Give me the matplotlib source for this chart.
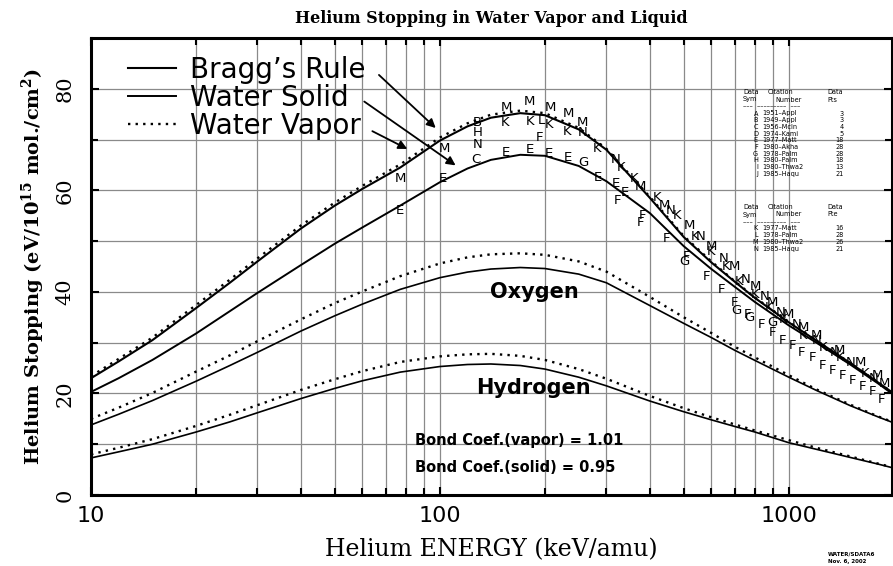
import numpy as np
import matplotlib
matplotlib.use("Agg")
import matplotlib.pyplot as plt
from matplotlib.ticker import FixedLocator, NullFormatter

plt.rcParams['mathtext.default'] = 'regular'

# energy grid (keV/amu) shared by all curves
energy = [10, 12, 15, 20, 25, 30, 40, 50, 60, 77, 100, 120, 140, 170, 200,
          250, 300, 400, 500, 600, 700, 800, 1000, 1200, 1500, 1800, 2000]

bragg = [23.0, 26.3, 30.5, 36.8, 41.8, 46.0, 52.5, 57.0, 60.3, 64.5, 69.8, 72.6, 74.3, 75.2, 74.8,
         72.0, 68.0, 58.5, 50.8, 45.8, 42.0, 38.8, 34.0, 30.4, 26.0, 22.2, 20.0]
water_vapor = [23.4, 26.8, 31.0, 37.4, 42.4, 46.6, 53.1, 57.6, 60.9, 65.1, 70.4, 73.2, 74.9, 75.7, 75.2,
               72.3, 68.2, 58.7, 51.0, 46.0, 42.1, 38.9, 34.1, 30.4, 26.0, 22.2, 20.0]
water_solid = [20.3, 23.0, 26.6, 31.8, 36.2, 39.8, 45.3, 49.5, 52.7, 57.0, 61.6, 64.3, 66.0, 67.0, 66.8,
               64.8, 61.8, 55.5, 49.0, 44.5, 41.0, 38.0, 33.4, 30.0, 25.7, 22.0, 19.7]
oxy_vapor = [15.0, 17.2, 20.1, 24.3, 27.5, 30.3, 34.6, 37.8, 40.1, 43.1, 45.6, 46.8, 47.4, 47.6, 47.3,
             46.0, 44.0, 39.0, 35.0, 31.9, 29.2, 27.1, 23.6, 20.8, 17.8, 15.5, 14.3]
oxy_solid = [13.8, 15.9, 18.6, 22.4, 25.5, 28.1, 32.3, 35.3, 37.6, 40.5, 42.8, 43.9, 44.5, 44.8, 44.6,
             43.5, 41.8, 37.3, 33.8, 31.0, 28.5, 26.5, 23.2, 20.6, 17.6, 15.4, 14.2]
hyd_vapor = [8.0, 9.3, 11.0, 13.6, 15.8, 17.7, 20.7, 22.8, 24.4, 26.2, 27.3, 27.7, 27.8, 27.4, 26.6,
             24.8, 22.9, 19.5, 17.1, 15.3, 13.9, 12.7, 10.8, 9.3, 7.6, 6.2, 5.4]
hyd_solid = [7.3, 8.5, 10.0, 12.4, 14.4, 16.2, 19.0, 21.0, 22.5, 24.2, 25.3, 25.7, 25.8, 25.5, 24.8,
             23.2, 21.5, 18.5, 16.4, 14.8, 13.5, 12.4, 10.3, 9.0, 7.4, 6.1, 5.3]

# experimental data, plotted as letters
data_sym = list("MEMEBHNCMKMKLMKFEEEEMKMNGEKNKEFEKMF") + list("FFFFFFFFFFFFFFFFFFFF") \
    + list("KKKKKKKKKKKKK") + list("MMMMMMMMMMMMM") + list("NNNNNNNNNNN") + list("GGGG")
data_e = [77, 77, 103, 102, 128, 128, 128, 127, 155, 154, 181, 181, 195, 207, 205, 193,
          155, 181, 205, 232, 233, 232, 257, 257, 257, 283, 283, 320, 330, 320, 322, 340, 360, 375, 375,
          382, 447, 510, 582, 643, 700, 763, 837, 900, 962, 1026, 1088, 1172, 1251, 1337, 1428, 1525, 1629, 1740, 1845,
          420, 480, 540, 600, 660, 720, 800, 880, 960, 1100, 1250, 1400, 1650,
          440, 520, 600, 700, 800, 900, 1000, 1100, 1200, 1400, 1600, 1800, 1880,
          460, 560, 650, 750, 850, 950, 1050, 1200, 1350, 1500, 1750,
          503, 709, 769, 900]
data_v = [62.4, 56.1, 68.3, 62.4, 73.3, 71.3, 69.0, 66.0, 76.4, 73.3, 77.4, 73.5, 73.7, 76.4, 72.9, 70.5,
          67.5, 68.0, 67.3, 66.4, 75.2, 71.5, 73.3, 71.3, 65.4, 62.6, 68.3, 66.0, 64.4, 61.4, 58.0, 59.5, 62.4, 60.7, 53.6,
          55.0, 50.5, 47.0, 43.0, 40.5, 38.0, 35.5, 33.5, 32.0, 30.5, 29.5, 28.0, 27.0, 25.5, 24.5, 23.5, 22.5, 21.3, 20.3, 18.8,
          58.5, 55.0, 51.0, 48.0, 45.0, 42.0, 39.5, 37.0, 34.5, 31.5, 29.0, 27.0, 24.0,
          57.0, 53.0, 49.0, 45.0, 41.0, 38.0, 35.5, 33.0, 31.5, 28.5, 26.0, 23.5, 22.0,
          56.0, 51.0, 46.5, 42.5, 39.0, 36.0, 33.5, 30.5, 28.0, 26.0, 23.0,
          45.9, 36.4, 35.0, 33.9]

table1_sym = list("ABCDEFGHIJ")
table1_cit = ["1951\u2013Appl", "1949\u2013Appl", "1956\u2013Mcln", "1974\u2013Kami", "1977\u2013Matt",
              "1980\u2013Akha", "1978\u2013Palm", "1980\u2013Palm", "1980\u2013Thwa2", "1985\u2013Haqu"]
table1_pts = [3, 3, 4, 5, 18, 28, 28, 18, 13, 21]
table2_sym = list("KLMN")
table2_cit = ["1977\u2013Matt", "1978\u2013Palm", "1980\u2013Thwa2", "1985\u2013Haqu"]
table2_pts = [16, 28, 26, 21]

W, H = 893, 566
fig = plt.figure(figsize=(W / 100, H / 100), dpi=100)
ax = fig.add_axes([91 / W, 1 - 495 / H, (891.5 - 91) / W, (495 - 38) / H])


def px(x, y):
    return x / W, 1 - y / H


dot = (0, (1, 2.2))
l_bragg, = ax.plot(energy, bragg, color='k', lw=1.5)
l_vap, = ax.plot(energy, water_vapor, color='k', lw=1.7, ls=dot)
l_sol, = ax.plot(energy, water_solid, color='k', lw=1.4)
ax.plot(energy, oxy_vapor, color='k', lw=1.7, ls=dot)
ax.plot(energy, oxy_solid, color='k', lw=1.2)
ax.plot(energy, hyd_vapor, color='k', lw=1.7, ls=dot)
ax.plot(energy, hyd_solid, color='k', lw=1.2)

for e, v, s in zip(data_e, data_v, data_sym):
    ax.text(e, v, s, fontsize=9.5, ha='center', va='center', color='k')

ax.set_xscale('log')
ax.set_xlim(10, 1970)
ax.set_ylim(0, 90)
ax.xaxis.set_major_locator(FixedLocator([10, 100, 1000]))
ax.xaxis.set_minor_locator(FixedLocator([20, 30, 40, 50, 60, 70, 80, 90,
                                         200, 300, 400, 500, 600, 700, 800, 900]))
ax.xaxis.set_minor_formatter(NullFormatter())
ax.set_xticklabels(['10', '100', '1000'])
ax.yaxis.set_major_locator(FixedLocator([0, 20, 40, 60, 80]))
ax.yaxis.set_minor_locator(FixedLocator([10, 30, 50, 70]))
ax.grid(True, which='both', color='#8a8a8a', lw=0.9)
ax.tick_params(which='both', direction='in', top=True, right=True, width=1.5, color='k')
ax.tick_params(which='major', length=6)
ax.tick_params(which='minor', length=5)
ax.tick_params(axis='x', labelsize=16, pad=8)
ax.tick_params(axis='y', labelsize=15, pad=12, labelrotation=90)
for lab in ax.get_yticklabels():
    lab.set_family('DejaVu Serif')
    lab.set_va('center')
for sp in ax.spines.values():
    sp.set_linewidth(2.2)

ax.set_xlabel('Helium ENERGY (keV/amu)', family='DejaVu Serif', fontsize=17, labelpad=9)
ax.set_ylabel('Helium Stopping (eV/10$^{15}$ mol./cm$^{2}$)', family='DejaVu Serif',
              fontsize=14, fontweight='bold', labelpad=6)
ax.set_title('Helium Stopping in Water Vapor and Liquid', family='DejaVu Serif',
             fontsize=11.5, fontweight='bold', pad=11)

leg = ax.legend([l_bragg, l_sol, l_vap], ["Bragg\u2019s Rule", "Water Solid", "Water Vapor"],
                loc='upper left', bbox_to_anchor=(0.032, 0.985), frameon=False, fontsize=20,
                handlelength=1.75, handletextpad=0.5, labelspacing=0.0, borderaxespad=0)

arrow = dict(arrowstyle='-|>', color='k', lw=1.3, mutation_scale=13)
ax.annotate('', xy=(98.6, 71.9), xytext=(66, 83.1), arrowprops=arrow)
ax.annotate('', xy=(112.6, 64.6), xytext=(59.8, 77.8), arrowprops=arrow)
ax.annotate('', xy=(82, 67.9), xytext=(63, 71.9), arrowprops=arrow)

ax.text(186, 40.0, 'Oxygen', fontsize=15, fontweight='bold', ha='center', va='center')
ax.text(186, 21.1, 'Hydrogen', fontsize=15, fontweight='bold', ha='center', va='center')
fig.text(*px(415, 440), 'Bond Coef.(vapor) = 1.01', fontsize=10.5, fontweight='bold', va='center')
fig.text(*px(415, 467), 'Bond Coef.(solid) = 0.95', fontsize=10.5, fontweight='bold', va='center')

# data citation tables
fs = 4.7


def table(y0, pts_word, syms, cits, pts):
    fig.text(*px(743, y0), 'Data', fontsize=fs, va='center')
    fig.text(*px(768, y0), 'Citation', fontsize=fs, va='center')
    fig.text(*px(827, y0), 'Data', fontsize=fs, va='center')
    fig.text(*px(743, y0 + 7.5), 'Sym', fontsize=fs, va='center')
    fig.text(*px(775, y0 + 7.5), 'Number', fontsize=fs, va='center')
    fig.text(*px(827, y0 + 7.5), pts_word, fontsize=fs, va='center')
    fig.text(*px(743, y0 + 14.5), '\u2013\u2013\u2013  \u2013\u2013\u2013\u2013\u2013\u2013\u2013\u2013\u2013  \u2013\u2013\u2013',
             fontsize=fs, va='center')
    for i, (s, c, p) in enumerate(zip(syms, cits, pts)):
        y = y0 + 21.5 + i * 6.7
        fig.text(*px(758, y), s, fontsize=fs, va='center', ha='right')
        fig.text(*px(762, y), c, fontsize=fs, va='center')
        fig.text(*px(844, y), str(p), fontsize=fs, va='center', ha='right')


table(92, 'Pts', table1_sym, table1_cit, table1_pts)
table(207, 'Pte', table2_sym, table2_cit, table2_pts)

fig.text(*px(828, 554), 'WATER/SDATA6', fontsize=4, fontweight='bold', va='center')
fig.text(*px(828, 561), 'Nov. 6, 2002', fontsize=4, fontweight='bold', va='center')

fig.savefig('out.png', dpi=100)
